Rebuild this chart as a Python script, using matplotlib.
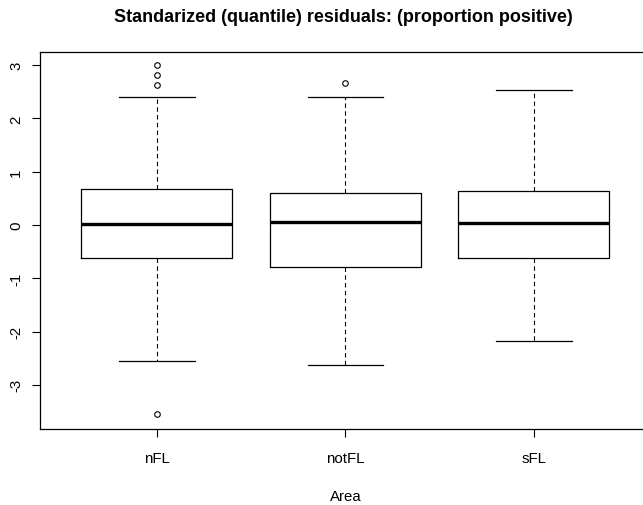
import matplotlib
matplotlib.use("Agg")
import matplotlib.pyplot as plt

areas = ["nFL", "notFL", "sFL"]
q1 = [-0.62, -0.78, -0.62]
medians = [0.02, 0.06, 0.04]
q3 = [0.67, 0.60, 0.63]
whisker_lo = [-2.55, -2.62, -2.18]
whisker_hi = [2.40, 2.40, 2.53]
outliers = [[2.63, 2.82, 3.00, -3.55], [2.67], []]

plt.rcParams["font.family"] = ["Liberation Sans", "DejaVu Sans"]

stats = []
for i, name in enumerate(areas):
    stats.append({
        "label": name,
        "q1": q1[i],
        "med": medians[i],
        "q3": q3[i],
        "whislo": whisker_lo[i],
        "whishi": whisker_hi[i],
        "fliers": outliers[i],
    })

fig = plt.figure(figsize=(6.43, 5.06), dpi=100)
ax = fig.add_axes([40 / 643, 76 / 506, 610.7 / 643, 377 / 506])

ax.bxp(
    stats,
    positions=[1, 2, 3],
    widths=0.8,
    showfliers=True,
    boxprops=dict(color="black", linewidth=0.9),
    medianprops=dict(color="black", linewidth=2.4, solid_capstyle="butt"),
    whiskerprops=dict(color="black", linewidth=0.8, linestyle=(0, (4, 3))),
    capprops=dict(color="black", linewidth=0.9),
    capwidths=0.4,
    flierprops=dict(marker="o", markersize=4, markerfacecolor="none",
                    markeredgecolor="black", markeredgewidth=0.8),
)

ax.set_xlim(0.38, 3.62)
ax.set_ylim(-3.827, 3.246)
ax.set_xticks([1, 2, 3])
ax.set_xticklabels(areas, fontsize=10.8)
ax.set_yticks([-3, -2, -1, 0, 1, 2, 3])
ax.set_yticklabels(["-3", "-2", "-1", "0", "1", "2", "3"], fontsize=10.8,
                   rotation=90, va="center")
ax.tick_params(direction="out", length=6, width=0.8)
ax.tick_params(axis="x", pad=10)
ax.tick_params(axis="y", pad=6)
for s in ax.spines.values():
    s.set_linewidth(0.9)

ax.set_xlabel("Area", fontsize=10.8, labelpad=17)
fig.text(343 / 643, 1 - 18 / 506, "Standarized (quantile) residuals: (proportion positive)",
         ha="center", va="center", fontsize=13, fontweight="bold")

fig.savefig("out.png", dpi=100)
